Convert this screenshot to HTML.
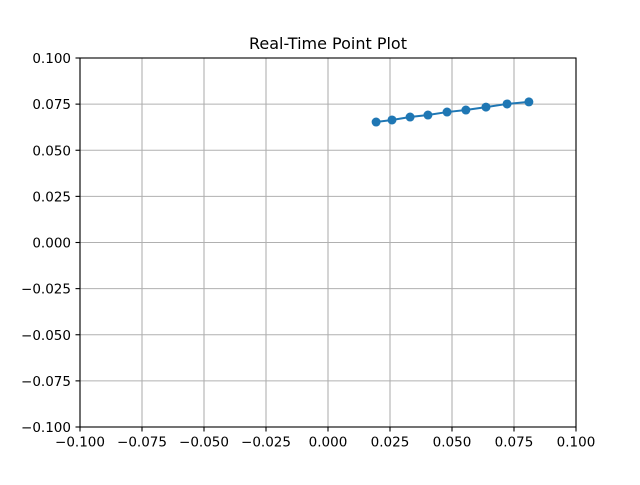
<!DOCTYPE html>
<html><head><meta charset="utf-8"><style>
body{margin:0;background:#fff;}
svg text{font-family:"DejaVu Sans","Liberation Sans",sans-serif;font-size:13.5px;fill:#000;}
</style></head><body>
<svg id="chart" width="640" height="480" xmlns="http://www.w3.org/2000/svg">
<rect width="640" height="480" fill="#fff"/>
<text x="328" y="49" text-anchor="middle" style="font-size:16px">Real-Time Point Plot</text>
<g id="grid"></g><g id="series"></g><g id="axes"></g>
</svg>
<script>
const xTicks=[-0.1,-0.075,-0.05,-0.025,0,0.025,0.05,0.075,0.1];
const yTicks=[-0.1,-0.075,-0.05,-0.025,0,0.025,0.05,0.075,0.1];
const xLabels=["−0.100","−0.075","−0.050","−0.025","0.000","0.025","0.050","0.075","0.100"];
const yLabels=["−0.100","−0.075","−0.050","−0.025","0.000","0.025","0.050","0.075","0.100"];
const xVals=[0.0194,0.0258,0.0331,0.0403,0.048,0.0556,0.0637,0.0722,0.081];
const yVals=[0.0653,0.0664,0.068,0.0691,0.0707,0.0718,0.0734,0.0751,0.0762];
const L=80,R=576,T=58,B=427;
const sx=v=>L+(v+0.1)/0.2*(R-L);
const sy=v=>B-(v+0.1)/0.2*(B-T);
const NS="http://www.w3.org/2000/svg";
function mk(tag,attrs,parent){const e=document.createElementNS(NS,tag);for(const k in attrs)e.setAttribute(k,attrs[k]);document.getElementById(parent).appendChild(e);return e;}
xTicks.forEach((t,i)=>{
 const g=mk('line',{x1:sx(t),x2:sx(t),y1:T,y2:B,stroke:'#b0b0b0','stroke-width':1.1},'grid');
 
 
 mk('line',{x1:sx(t),x2:sx(t),y1:B,y2:B+4.5,stroke:'#000','stroke-width':1.1},'axes');
 const tx=mk('text',{x:sx(t),y:B+19.5,'text-anchor':'middle'},'axes');tx.textContent=xLabels[i];
 
 
});
yTicks.forEach((t,i)=>{
 const g=mk('line',{x1:L,x2:R,y1:sy(t),y2:sy(t),stroke:'#b0b0b0','stroke-width':1.1},'grid');
 
 
 mk('line',{x1:L-4.5,x2:L,y1:sy(t),y2:sy(t),stroke:'#000','stroke-width':1.1},'axes');
 const tx=mk('text',{x:L-9,y:sy(t)+5,'text-anchor':'end'},'axes');tx.textContent=yLabels[i];
 
 
});
const fr=mk('rect',{x:L,y:T,width:R-L,height:B-T,fill:'none',stroke:'#000','stroke-width':1.1},'axes');


const pl=mk('polyline',{points:xVals.map((x,i)=>sx(x)+','+sy(yVals[i])).join(' '),fill:'none',stroke:'#1f77b4','stroke-width':2},'series');


xVals.forEach((x,i)=>{
 const c=mk('circle',{cx:sx(x),cy:sy(yVals[i]),r:4.5,fill:'#1f77b4'},'series');
 
 
});
</script>
</body></html>
